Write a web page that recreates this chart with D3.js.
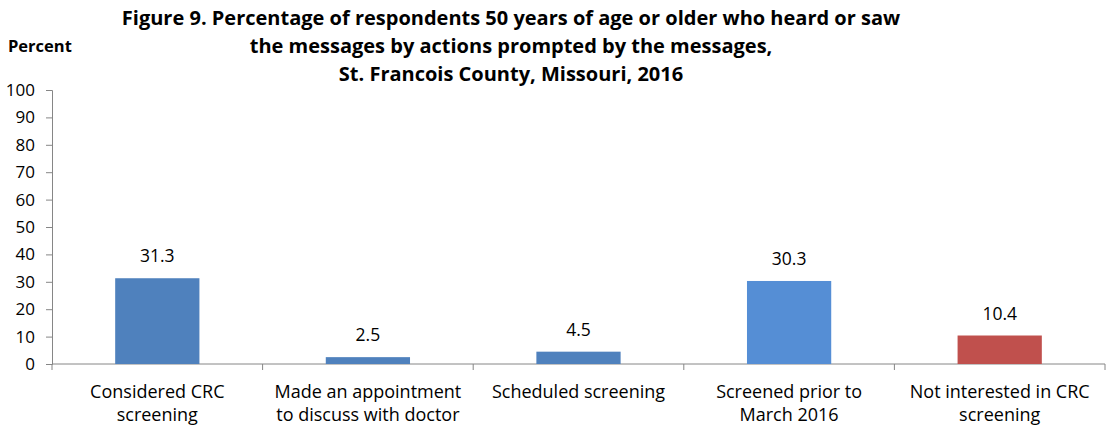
<!DOCTYPE html>
<html><head><meta charset="utf-8">
<script src="https://cdn.jsdelivr.net/npm/d3@7"></script>
<style>body{margin:0;background:#fff}svg{display:block}text{font-family:"Open Sans","Noto Sans",sans-serif}</style>
</head><body><svg id="c" width="1106" height="427"></svg>
<script>
(function(){
const categories = [["Considered CRC","screening"],["Made an appointment","to discuss with doctor"],["Scheduled screening"],["Screened prior to","March 2016"],["Not interested in CRC","screening"]];
const values = [31.3, 2.5, 4.5, 30.3, 10.4];
const barColors = ["#4F81BD","#4F81BD","#4F81BD","#558ED5","#C0504D"];
const yTicks = [0,10,20,30,40,50,60,70,80,90,100];
const titleLines = ["Figure 9. Percentage of respondents 50 years of age or older who heard or saw","the messages by actions prompted by the messages,","St. Francois County, Missouri, 2016"];

const svg = d3.select("#c");
const mLeft = 52, mRight = 1105, mTop = 90, mBottom = 364;
const x = d3.scaleBand().domain(d3.range(values.length)).range([mLeft, mRight]).paddingInner(0).paddingOuter(0);
const y = d3.scaleLinear().domain([0,100]).range([mBottom, mTop]);

titleLines.forEach((t,i)=>{
  svg.append("text").attr("x",511).attr("y",25+i*28).attr("text-anchor","middle")
    .attr("font-size",20).attr("font-weight","bold").attr("fill","#000").text(t);
});
svg.append("text").attr("x",8).attr("y",52).attr("font-size",16.5).attr("font-weight","bold").text("Percent");

const ya = svg.append("g").attr("transform",`translate(${mLeft},0)`)
  .call(d3.axisLeft(y).tickValues(yTicks).tickSize(6).tickPadding(11).tickFormat(d3.format("d")));
ya.select(".domain").attr("stroke","#868686");
ya.selectAll(".tick line").attr("stroke","#868686");
ya.selectAll(".tick text").attr("font-size",17).attr("fill","#000").attr("font-family","'Open Sans',sans-serif");

const xa = svg.append("g").attr("transform",`translate(0,${mBottom})`);
xa.append("line").attr("x1",mLeft).attr("x2",mRight).attr("stroke","#868686");
d3.range(values.length+1).forEach(i=>{
  const xx = i<values.length ? x(i) : mRight;
  xa.append("line").attr("x1",xx).attr("x2",xx).attr("y1",0).attr("y2",6).attr("stroke","#868686");
});

const bw = x.bandwidth()*0.4;
svg.selectAll("rect.bar").data(values).join("rect")
  .attr("x",(d,i)=>x(i)+x.bandwidth()/2-bw/2).attr("width",bw)
  .attr("y",d=>y(d)).attr("height",d=>mBottom-y(d))
  .attr("fill",(d,i)=>barColors[i]);

svg.selectAll("text.val").data(values).join("text")
  .attr("x",(d,i)=>x(i)+x.bandwidth()/2).attr("y",d=>y(d)-16)
  .attr("text-anchor","middle").attr("font-size",17.5).text(d=>d.toFixed(1));

categories.forEach((lines,i)=>{
  lines.forEach((l,j)=>{
    svg.append("text").attr("x",x(i)+x.bandwidth()/2).attr("y",398+j*23)
      .attr("text-anchor","middle").attr("font-size",18).text(l);
  });
});
})();
</script></body></html>
